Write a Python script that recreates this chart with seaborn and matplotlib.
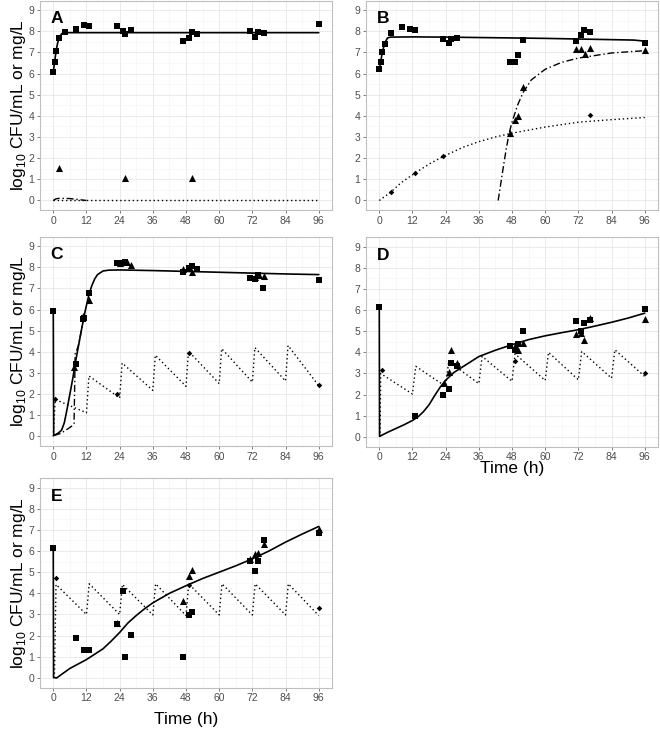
import seaborn as sns
import matplotlib.pyplot as plt
from matplotlib.ticker import MultipleLocator

# ---------------- Panel A ----------------
a_sq_t = [0, 0.5, 1.1, 2, 4.2, 8.2, 11.1, 13.1, 23.1, 25.1, 26.1, 28, 47, 49, 50.1, 52, 71, 73.1, 74.1, 76.1, 96]
a_sq_y = [6.08, 6.56, 7.08, 7.69, 7.94, 8.08, 8.27, 8.25, 8.24, 8.02, 7.88, 8.07, 7.52, 7.69, 7.97, 7.88, 7.99, 7.71, 7.94, 7.91, 8.33]
a_tri_t = [2.2, 26.1, 50.1]
a_tri_y = [1.53, 1.04, 1.04]
a_dia_t = []
a_dia_y = []
a_fit_t = [0, 0.5, 1, 1.5, 2, 3, 4, 6, 96]
a_fit_y = [6.08, 6.55, 7.05, 7.4, 7.65, 7.88, 7.93, 7.93, 7.93]
a_res_t = [0, 1, 2, 4, 6, 8, 10, 12]
a_res_y = [0.0, 0.08, 0.1, 0.1, 0.09, 0.06, 0.03, 0.0]
a_drug_t = [0, 96]
a_drug_y = [0, 0]

# ---------------- Panel B ----------------
b_sq_t = [0, 0.5, 1.1, 2, 4.1, 8.1, 11.1, 13.1, 23.1, 25.1, 26.1, 28, 47.1, 49, 50.1, 52, 71.2, 73.1, 74.2, 76.1, 96]
b_sq_y = [6.23, 6.53, 7.02, 7.41, 7.90, 8.20, 8.09, 8.04, 7.65, 7.44, 7.61, 7.69, 6.56, 6.53, 6.89, 7.57, 7.55, 7.82, 8.04, 7.96, 7.44]
b_tri_t = [47.1, 49.1, 50.1, 52, 71.2, 73.1, 74.3, 76.2, 96.2]
b_tri_y = [3.21, 3.79, 3.98, 5.35, 7.16, 7.16, 6.92, 7.21, 7.13]
b_dia_t = [4.1, 13.1, 23.1, 76.2]
b_dia_y = [0.38, 1.31, 2.09, 4.03]
b_fit_t = [0, 0.5, 1, 2, 3, 4, 12, 24, 36, 48, 60, 72, 84, 92, 96]
b_fit_y = [6.2, 6.5, 6.95, 7.45, 7.68, 7.72, 7.73, 7.72, 7.7, 7.68, 7.66, 7.63, 7.6, 7.58, 7.53]
b_res_t = [43, 44, 45, 46, 47, 48, 50, 52, 55, 60, 66, 72, 84, 96]
b_res_y = [0, 0.85, 1.7, 2.5, 3.2, 3.7, 4.5, 5.1, 5.7, 6.2, 6.53, 6.73, 6.97, 7.08]
b_drug_t = [0, 4, 8, 13, 18, 23, 30, 36, 42, 48, 60, 72, 84, 96]
b_drug_y = [0, 0.38, 0.85, 1.3, 1.72, 2.07, 2.5, 2.78, 3.0, 3.18, 3.47, 3.7, 3.82, 3.92]

# ---------------- Panel C ----------------
c_sq_t = [0, 8.1, 10.8, 11, 13, 22.9, 25, 26, 47, 49, 50, 52, 71, 73, 74, 76, 96]
c_sq_y = [5.95, 3.44, 5.53, 5.62, 6.79, 8.18, 8.18, 8.23, 7.78, 7.94, 8.05, 7.9, 7.5, 7.42, 7.63, 7.0, 7.39]
c_tri_t = [7.6, 10.8, 12.8, 24, 26.5, 28, 47, 50.3, 73, 74.5, 76.1]
c_tri_y = [3.28, 5.68, 6.44, 8.2, 8.26, 8.1, 7.9, 7.78, 7.55, 7.63, 7.58]
c_dia_t = [0.6, 22.9, 49, 96.1]
c_dia_y = [1.78, 1.99, 3.96, 2.45]
c_fit_t = [0, 0.15, 1, 2, 3, 4, 5, 6, 7, 8, 9, 10, 11, 12, 13, 14, 15, 16, 18, 20, 24, 36, 48, 60, 72, 84, 96]
c_fit_y = [5.95, 0.05, 0.1, 0.18, 0.3, 0.65, 1.3, 2.0, 2.7, 3.5, 4.2, 4.9, 5.6, 6.2, 6.75, 7.15, 7.45, 7.65, 7.82, 7.86, 7.87, 7.84, 7.8, 7.76, 7.72, 7.68, 7.65]
c_res_t = [0.2, 2.4, 4, 5.5, 7, 7.5, 7.7, 7.9, 9, 10, 11]
c_res_y = [0.05, 0.13, 0.25, 0.38, 0.52, 0.6, 2.0, 3.9, 4.25, 4.9, 5.6]
c_drug_t = [0, 0.7, 12, 12.9, 24, 24.9, 36, 36.9, 48, 48.9, 60, 60.9, 72, 72.9, 84, 84.9, 96]
c_drug_y = [0, 1.75, 1.12, 2.86, 1.82, 3.47, 2.18, 3.84, 2.37, 4.03, 2.5, 4.15, 2.57, 4.2, 2.62, 4.3, 2.4]

# ---------------- Panel D ----------------
d_sq_t = [0, 13.1, 23, 25.1, 26.1, 28.1, 47.1, 49.1, 50.1, 52.1, 71.1, 73.1, 74.1, 76.1, 96]
d_sq_y = [6.12, 0.98, 1.97, 2.28, 3.49, 3.37, 4.28, 4.12, 4.39, 4.99, 5.46, 4.99, 5.38, 5.51, 6.04]
d_tri_t = [23.3, 25.1, 26.1, 28.1, 49, 50.1, 52.1, 71.1, 73.1, 74.2, 76.1, 96]
d_tri_y = [2.55, 3.07, 4.12, 3.49, 4.3, 4.12, 4.44, 4.88, 4.9, 4.59, 5.62, 5.59]
d_dia_t = [1.1, 49.1, 96]
d_dia_y = [3.15, 3.57, 3.02]
d_fit_t = [0, 0.1, 3, 6, 9, 12, 14, 16, 18, 20, 22, 24, 27, 30, 33, 36, 42, 48, 54, 60, 66, 72, 78, 84, 90, 96]
d_fit_y = [6.12, 0.03, 0.22, 0.4, 0.58, 0.78, 0.95, 1.2, 1.52, 1.95, 2.35, 2.68, 3.05, 3.3, 3.55, 3.8, 4.1, 4.36, 4.6, 4.78, 4.93, 5.07, 5.24, 5.42, 5.62, 5.85]
d_drug_t = [0.3, 0.5, 12, 13.2, 24, 25.1, 36, 37.2, 48, 49.1, 60, 61.2, 72, 73.2, 84, 85.2, 96]
d_drug_y = [0, 3.0, 2.03, 3.34, 2.39, 3.57, 2.52, 3.81, 2.63, 3.93, 2.67, 4.0, 2.7, 4.04, 2.78, 4.12, 2.86]

# ---------------- Panel E ----------------
e_sq_t = [0, 8.2, 11, 13.1, 23, 25.1, 26, 28.1, 47, 49, 50.1, 71, 73, 74.1, 76.1, 96]
e_sq_y = [6.13, 1.90, 1.30, 1.30, 2.54, 4.10, 1.0, 2.03, 1.0, 2.99, 3.14, 5.51, 5.04, 5.55, 6.54, 6.86]
e_tri_t = [23, 47, 49, 50.1, 71, 73.1, 74.1, 76.1, 96]
e_tri_y = [2.58, 3.63, 4.83, 5.12, 5.63, 5.86, 5.91, 6.31, 7.05]
e_dia_t = [1.1, 49, 96]
e_dia_y = [4.71, 4.39, 3.31]
e_fit_t = [0, 0.1, 1.2, 6, 12, 18, 21, 24, 27, 30, 33, 36, 42, 48, 54, 60, 66, 72, 78, 84, 90, 96]
e_fit_y = [6.13, 0.02, 0.0, 0.45, 0.87, 1.38, 1.75, 2.15, 2.6, 2.95, 3.27, 3.55, 4.0, 4.36, 4.7, 5.0, 5.3, 5.63, 6.0, 6.42, 6.8, 7.16]
e_drug_t = [0.4, 1, 12, 13, 24, 25, 36, 37, 48, 49, 60, 61, 72, 73, 84, 85, 96]
e_drug_y = [0, 4.42, 3.0, 4.45, 3.0, 4.42, 2.98, 4.45, 2.95, 4.45, 2.98, 4.45, 2.98, 4.45, 2.98, 4.45, 2.95]

x_ticks = [0, 12, 24, 36, 48, 60, 72, 84, 96]
y_ticks = list(range(10))
ylab = r'log$_{\mathregular{10}}$ CFU/mL or mg/L'
xlab = 'Time (h)'

sns.set_theme(style="whitegrid")
plt.rcParams['font.family'] = ['Liberation Sans', 'DejaVu Sans']
plt.rcParams['mathtext.fontset'] = 'custom'
plt.rcParams['mathtext.rm'] = 'Liberation Sans'

fig = plt.figure(figsize=(6.6, 7.29), dpi=100)
W, H = 660, 729


def make_ax(left, top, w=292, h=209.5):
    return fig.add_axes([left / W, 1 - (top + h) / H, w / W, h / H])


def draw(ax, letter, sq, tri, dia, fit, res, drug):
    # model curves
    sns.lineplot(x=drug[0], y=drug[1], ax=ax, color='black', lw=1.0,
                 dashes=(1, 2), estimator=None, sort=False)
    if res is not None:
        sns.lineplot(x=res[0], y=res[1], ax=ax, color='black', lw=1.0,
                     dashes=(5, 2, 1, 2), estimator=None, sort=False)
    sns.lineplot(x=fit[0], y=fit[1], ax=ax, color='black', lw=1.2,
                 estimator=None, sort=False)
    # observations
    sns.scatterplot(x=sq[0], y=sq[1], ax=ax, marker='s', s=20, color='black', linewidth=0)
    sns.scatterplot(x=tri[0], y=tri[1], ax=ax, marker='^', s=26, color='black', linewidth=0)
    if len(dia[0]):
        sns.scatterplot(x=dia[0], y=dia[1], ax=ax, marker='D', s=8, color='black', linewidth=0)

    ax.set_xlim(-4.8, 100.8)
    ax.set_ylim(-0.45, 9.45)
    ax.set_xticks(x_ticks)
    ax.set_yticks(y_ticks)
    ax.xaxis.set_minor_locator(MultipleLocator(6))
    ax.yaxis.set_minor_locator(MultipleLocator(0.5))
    ax.grid(which='major', color='#E6E6E6', lw=0.6)
    ax.grid(which='minor', color='#F3F3F3', lw=0.4)
    ax.set_axisbelow(True)
    ax.tick_params(which='minor', length=0)
    ax.tick_params(which='major', bottom=True, left=True, length=2.5, width=0.6,
                   color='#666666', labelsize=7.5, labelcolor='#4D4D4D', pad=1.5)
    for sp in ax.spines.values():
        sp.set_color('#BFBFBF')
        sp.set_linewidth(0.8)
    ax.set_xlabel('')
    ax.set_ylabel('')
    ax.text(-1, 8.37, letter, fontsize=12.5, fontweight='bold', color='black')


ax_a = make_ax(40, 0.5)
ax_b = make_ax(366, 0.5)
ax_c = make_ax(40, 236.5)
ax_d = make_ax(366, 237)
ax_e = make_ax(40, 478)

draw(ax_a, 'A', (a_sq_t, a_sq_y), (a_tri_t, a_tri_y), (a_dia_t, a_dia_y),
     (a_fit_t, a_fit_y), (a_res_t, a_res_y), (a_drug_t, a_drug_y))
draw(ax_b, 'B', (b_sq_t, b_sq_y), (b_tri_t, b_tri_y), (b_dia_t, b_dia_y),
     (b_fit_t, b_fit_y), (b_res_t, b_res_y), (b_drug_t, b_drug_y))
draw(ax_c, 'C', (c_sq_t, c_sq_y), (c_tri_t, c_tri_y), (c_dia_t, c_dia_y),
     (c_fit_t, c_fit_y), (c_res_t, c_res_y), (c_drug_t, c_drug_y))
draw(ax_d, 'D', (d_sq_t, d_sq_y), (d_tri_t, d_tri_y), (d_dia_t, d_dia_y),
     (d_fit_t, d_fit_y), None, (d_drug_t, d_drug_y))
draw(ax_e, 'E', (e_sq_t, e_sq_y), (e_tri_t, e_tri_y), (e_dia_t, e_dia_y),
     (e_fit_t, e_fit_y), None, (e_drug_t, e_drug_y))

for ax in (ax_a, ax_c, ax_e):
    ax.set_ylabel(ylab, fontsize=12.5, color='black')
    ax.yaxis.set_label_coords(-0.04, 0.5)

for ax, yc in ((ax_d, -0.07), (ax_e, -0.115)):
    ax.set_xlabel(xlab, fontsize=12.5, color='black')
    ax.xaxis.set_label_coords(0.5, yc)

fig.savefig('out.png', dpi=100, facecolor='white')
